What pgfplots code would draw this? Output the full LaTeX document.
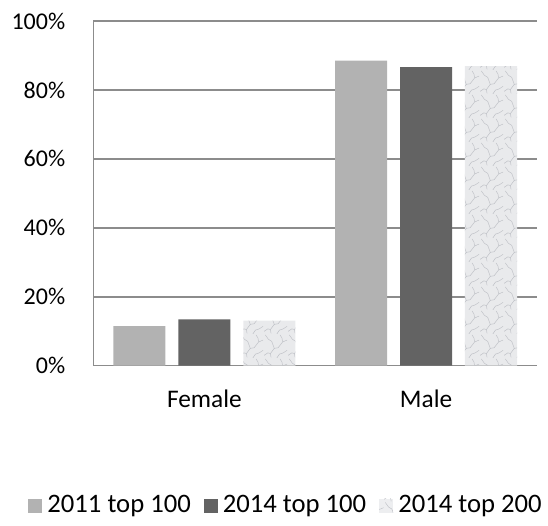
\documentclass[border=0pt]{standalone}
\usepackage{fontspec}
\setmainfont{Carlito}
\usepackage{pgfplots}
\pgfplotsset{compat=1.18}
\usetikzlibrary{patterns}

\definecolor{bar2011}{HTML}{B2B2B2}
\definecolor{bar2014}{HTML}{636363}
\definecolor{marblebase}{HTML}{E9EAEC}
\definecolor{marblevein}{HTML}{BDBFC5}
\definecolor{gridgray}{HTML}{8C8C8C}

% rough marble veins for the 2014 top 200 bars
\pgfdeclarepatternformonly{marble}{\pgfqpoint{0pt}{0pt}}{\pgfqpoint{18pt}{18pt}}{\pgfqpoint{18pt}{18pt}}{
  \pgfsetlinewidth{0.35pt}
  \pgfpathmoveto{\pgfqpoint{0pt}{2pt}}
  \pgfpathlineto{\pgfqpoint{3pt}{4pt}}
  \pgfpathlineto{\pgfqpoint{5pt}{3.5pt}}
  \pgfpathlineto{\pgfqpoint{8pt}{7.5pt}}
  \pgfpathlineto{\pgfqpoint{11pt}{8pt}}
  \pgfpathlineto{\pgfqpoint{14.5pt}{12.5pt}}
  \pgfpathlineto{\pgfqpoint{18pt}{14pt}}
  \pgfpathmoveto{\pgfqpoint{1pt}{18pt}}
  \pgfpathlineto{\pgfqpoint{3.5pt}{14.5pt}}
  \pgfpathlineto{\pgfqpoint{6pt}{13pt}}
  \pgfpathlineto{\pgfqpoint{8pt}{7.5pt}}
  \pgfpathmoveto{\pgfqpoint{10pt}{0pt}}
  \pgfpathlineto{\pgfqpoint{12pt}{3pt}}
  \pgfpathlineto{\pgfqpoint{15pt}{4pt}}
  \pgfpathlineto{\pgfqpoint{18pt}{6pt}}
  \pgfpathmoveto{\pgfqpoint{12.5pt}{18pt}}
  \pgfpathlineto{\pgfqpoint{14pt}{15.5pt}}
  \pgfpathlineto{\pgfqpoint{14.5pt}{12.5pt}}
  \pgfpathmoveto{\pgfqpoint{5pt}{3.5pt}}
  \pgfpathlineto{\pgfqpoint{5.5pt}{0.5pt}}
  \pgfusepath{stroke}
}

\begin{document}
\fontsize{19}{23}\selectfont
\begin{tikzpicture}
\path[use as bounding box] (-70.1pt,-119.5pt) rectangle (340.9pt,274.25pt);
\begin{axis}[
    scale only axis,
    width=332.6pt, height=258.5pt,
    ybar,
    bar width=0.235,
    xmin=-0.5, xmax=1.5,
    ymin=0, ymax=100,
    xtick={0,1},
    xticklabels={Female,Male},
    ytick={0,20,40,60,80,100},
    yticklabels={0\%,20\%,40\%,60\%,80\%,100\%},
    major tick length=0pt,
    axis lines*=left,
    axis line style={draw=gridgray, line width=1.2pt},
    ymajorgrids,
    grid style={draw=gridgray, line width=1.2pt},
    yticklabel style={inner sep=0pt, anchor=east, xshift=-21pt, font=\fontsize{18}{22}\selectfont},
    xticklabel style={inner sep=0pt, anchor=north, yshift=-18.2pt},
    legend columns=3,
    legend style={draw=none, fill=none, inner sep=0pt,
        at={(rel axis cs:0.432,-0.407)}, anchor=center,
        font=\fontsize{20}{24}\selectfont,
        nodes={inner sep=0pt},
        /tikz/every odd column/.append style={column sep=3.75pt},
        /tikz/every even column/.append style={column sep=9.75pt}},
]
\addplot[draw=none, fill=bar2011, bar shift=-0.293,
    legend image code/.code={\fill[bar2011] (0pt,-5.25pt) rectangle (10.5pt,5.25pt);}]
    coordinates {(0,11.5) (1,88.5)};
\addlegendentry{2011 top 100}
\addplot[draw=none, fill=bar2014, bar shift=0,
    legend image code/.code={\fill[bar2014] (0pt,-5.25pt) rectangle (10.5pt,5.25pt);}]
    coordinates {(0,13.4) (1,86.6)};
\addlegendentry{2014 top 100}
\addplot[draw=none, fill=marblebase, bar shift=0.293,
    postaction={pattern=marble, pattern color=marblevein},
    legend image code/.code={\fill[marblebase!80!white] (0pt,-5.25pt) rectangle (10.5pt,5.25pt);}]
    coordinates {(0,13.1) (1,86.9)};
\addlegendentry{2014 top 200}
\end{axis}
\end{tikzpicture}
\end{document}
